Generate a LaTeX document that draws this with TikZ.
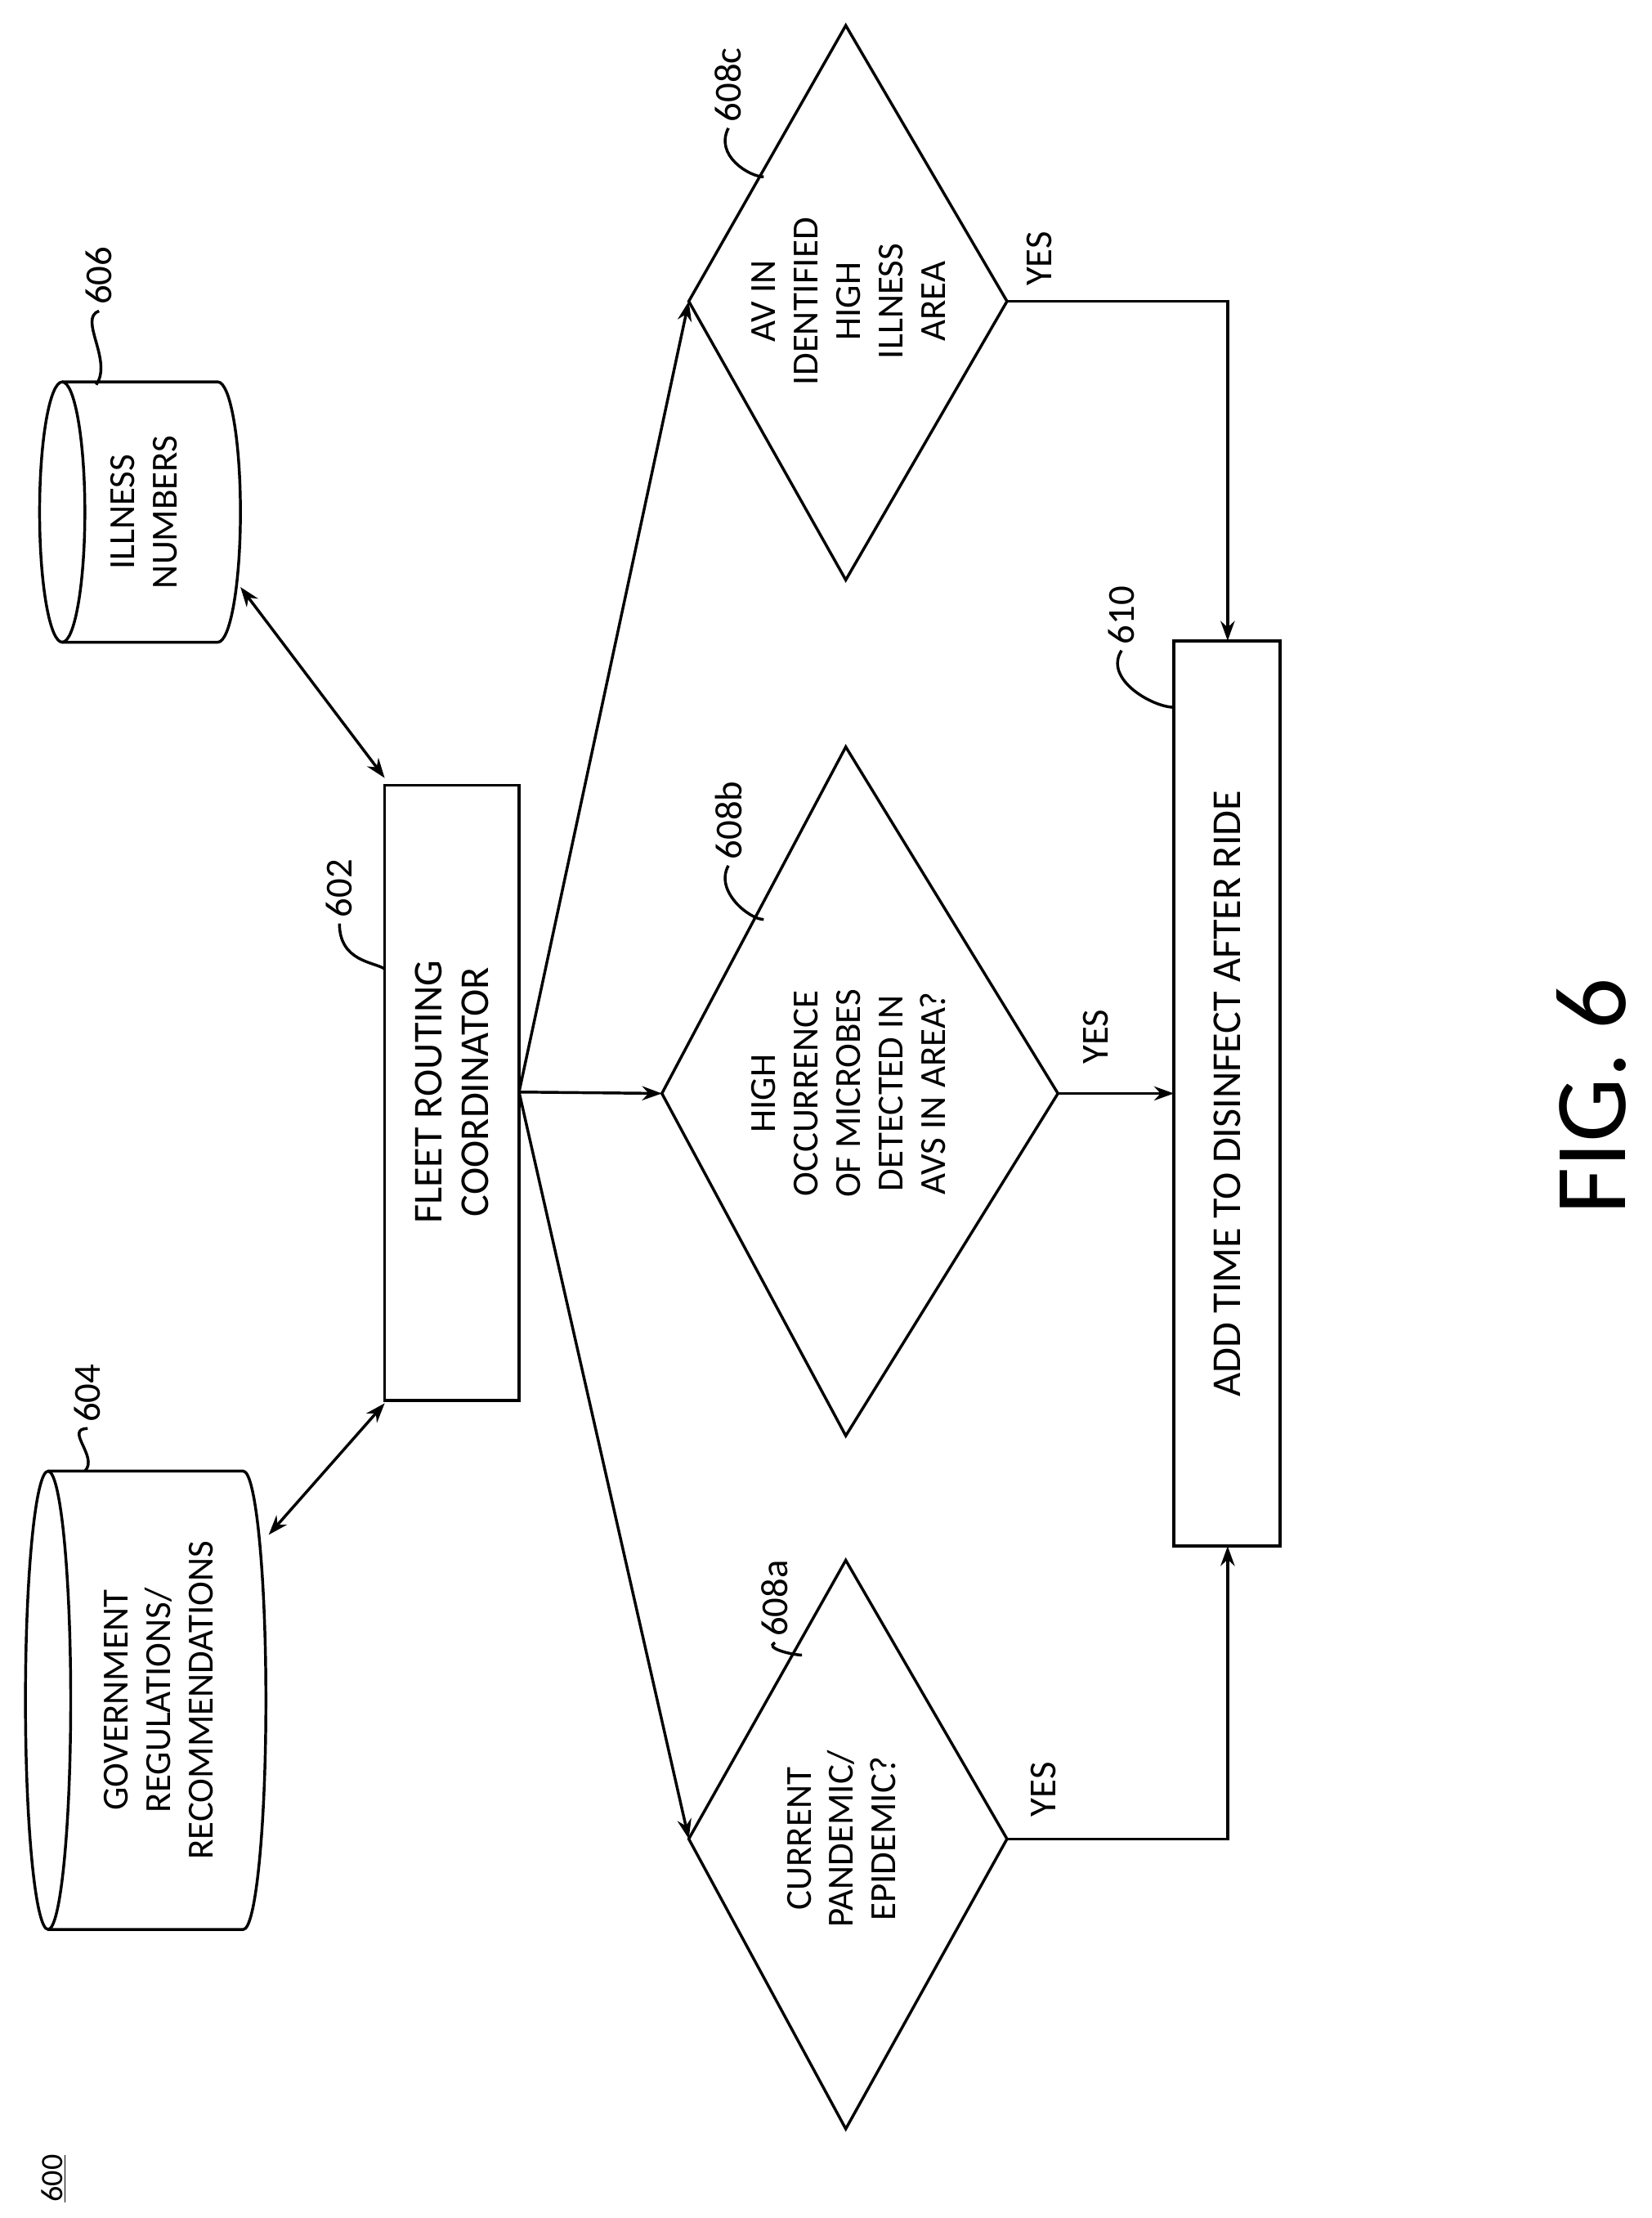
\documentclass[tikz,border=0pt]{standalone}
\usepackage{fontspec}
\setmainfont{Carlito}
\usetikzlibrary{arrows.meta}
\begin{document}
\begin{tikzpicture}[x=1pt,y=-1pt,line width=2pt,
 lbl/.style={rotate=90,font=\fontsize{27}{30}\selectfont},
 txt/.style={rotate=90,align=center,font=\fontsize{26}{30}\selectfont},
 arr/.style={-{Stealth[length=14pt,width=10pt]}},
 darr/.style={{Stealth[length=14pt,width=10pt]}-{Stealth[length=14pt,width=10pt]}}]
\useasboundingbox (0,0) rectangle (1168,1568);
% cylinders
\draw (34,1202) ellipse (16 and 162);
\draw (34,1040) -- (172,1040) arc[start angle=-90,end angle=90,x radius=16,y radius=162] -- (34,1364);
\node[txt] (c604) at (112,1202) {GOVERNMENT\\REGULATIONS/\\RECOMMENDATIONS};
\coordinate (c604a) at (190,1085);
\draw (44,362) ellipse (16 and 92);
\draw (44,270) -- (154,270) arc[start angle=-90,end angle=90,x radius=16,y radius=92] -- (44,454);
\node[txt] (c606) at (102,362) {ILLNESS\\NUMBERS};
\coordinate (c606a) at (170,415);
% box 602
\draw (272,555) rectangle (367,990);
\node[txt,font=\fontsize{29}{33}\selectfont] (b602) at (319.5,772) {FLEET ROUTING\\COORDINATOR};
\coordinate (b602r) at (367,772);
\coordinate (b602t) at (272,550);
\coordinate (b602b) at (272,992);
% box 610
\draw (830,453) rectangle (905,1093);
\node[txt,font=\fontsize{29}{33}\selectfont] (b610) at (867.5,773) {ADD TIME TO DISINFECT AFTER RIDE};
\coordinate (b610t) at (868,453);
\coordinate (b610b) at (868,1093);
% diamonds
\draw (598,1103) -- (712,1300) -- (598,1505) -- (487,1300) -- cycle;
\node[txt] (d608a) at (595,1300) {CURRENT\\PANDEMIC/\\EPIDEMIC?};
\coordinate (aL) at (487,1300); \coordinate (aR) at (712,1300);
\draw (598,528) -- (748,773) -- (598,1015) -- (468,773) -- cycle;
\node[txt] (d608b) at (600,773) {HIGH\\OCCURRENCE\\OF MICROBES\\DETECTED IN\\AVS IN AREA?};
\coordinate (bL) at (468,773); \coordinate (bR) at (748,773);
\draw (598,18) -- (712,213) -- (598,410) -- (487,213) -- cycle;
\node[txt] (d608c) at (600,213) {AV IN\\IDENTIFIED\\HIGH\\ILLNESS\\AREA};
\coordinate (cL) at (487,213); \coordinate (cR) at (712,213);
% connectors
\draw[darr] (c604a) -- (b602b);
\draw[darr] (c606a) -- (b602t);
\draw[arr] (b602r) -- (bL);
\draw[arr] (b602r) -- (aL);
\draw[arr] (b602r) -- (cL);
\draw[arr] (bR) -- (830,773);
\draw[arr] (aR) -- (868,1300) -- (b610b);
\draw[arr] (cR) -- (868,213) -- (b610t);
\node[lbl] (y1) at (738,1265) {YES};
\node[lbl] (y2) at (775,733) {YES};
\node[lbl] (y3) at (735,183) {YES};
% ref labels
\node[lbl] (l604) at (62,985) {604};
\draw (l604.west) .. controls (45,1010) and (70,1030) .. (60,1040);
\node[lbl] (l606) at (70,195) {606};
\draw (l606.west) .. controls (55,225) and (80,255) .. (68,272);
\node[lbl] (l602) at (240,628) {602};
\draw (l602.west) .. controls (240,680) and (265,680) .. (272,685);
\node[lbl] (l608a) at (548,1130) {608a};
\draw (l608a.west) .. controls (540,1165) and (560,1170) .. (567,1170);
\node[lbl] (l608b) at (515,580) {608b};
\draw (l608b.west) .. controls (505,630) and (530,650) .. (540,650);
\node[lbl] (l608c) at (515,60) {608c};
\draw (l608c.west) .. controls (505,110) and (530,125) .. (540,125);
\node[lbl] (l610) at (793,435) {610};
\draw (l610.west) .. controls (780,480) and (815,500) .. (830,500);
\node[rotate=90,font=\fontsize{72}{80}\selectfont] (fig) at (1125,775) {FIG. 6};
\node[lbl,font=\fontsize{22}{26}\selectfont] (n600) at (38,1540) {\underline{600}};
\end{tikzpicture}
\end{document}
